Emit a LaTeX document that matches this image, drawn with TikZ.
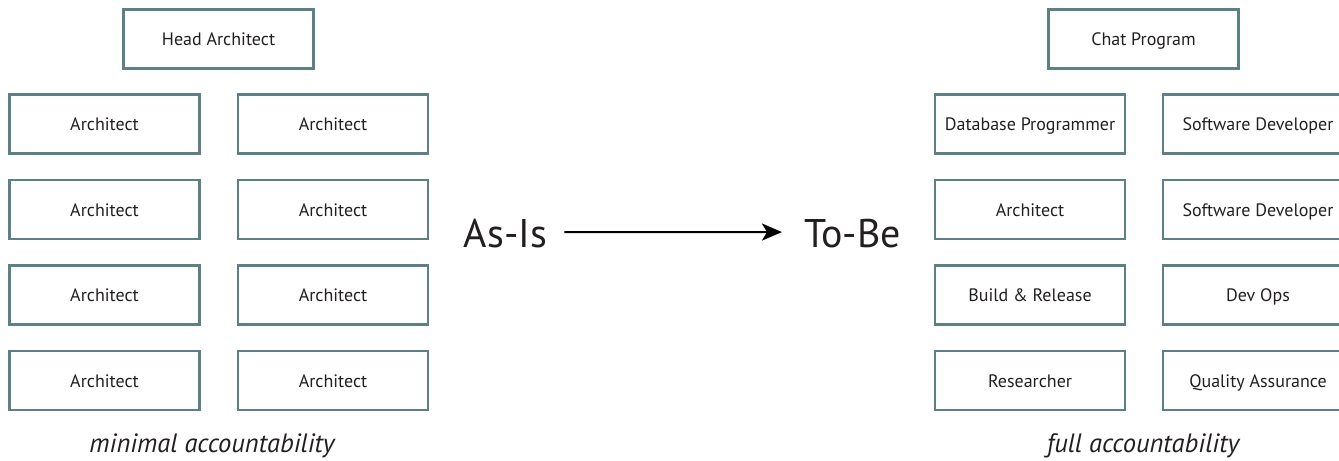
\documentclass[tikz,border=0pt]{standalone}
\usepackage{fontspec}
\setmainfont{PT Sans}
\usetikzlibrary{arrows.meta}
\definecolor{boxline}{RGB}{92,128,131}
\definecolor{ink}{RGB}{35,31,32}
\tikzset{
  rolebox/.style={draw=boxline, line width=2.2bp, minimum width=190bp, minimum height=59bp, inner sep=0pt,
    text height=14bp, text depth=0bp,
    text=ink, font=\fontsize{18bp}{21bp}\selectfont},
  bigword/.style={inner sep=0pt, anchor=base, text=ink, font=\fontsize{40bp}{46bp}\selectfont},
  caption/.style={inner sep=0pt, text=ink, font=\fontsize{26.5bp}{30bp}\selectfont\itshape},
  flow/.style={draw=black, line width=2bp, -{Stealth[length=20bp, width=17bp, inset=5bp]}}
}
\begin{document}
\begin{tikzpicture}[x=1bp, y=-1bp]
\useasboundingbox (0,0) rectangle (1339,461);
\clip (0,0) rectangle (1339,461);
% left organisation
\node[rolebox] (ha) at (218.5,39) {Head Architect};
\node[rolebox] (l11) at (104.5,124) {Architect};
\node[rolebox] (l12) at (333,124) {Architect};
\node[rolebox] (l21) at (104.5,209.5) {Architect};
\node[rolebox] (l22) at (333,209.5) {Architect};
\node[rolebox] (l31) at (104.5,295) {Architect};
\node[rolebox] (l32) at (333,295) {Architect};
\node[rolebox] (l41) at (104.5,380.5) {Architect};
\node[rolebox] (l42) at (333,380.5) {Architect};
\node[caption] (lcap) at (212,446) {minimal accountability};
% right organisation
\node[rolebox] (cp) at (1143.5,39) {Chat Program};
\node[rolebox] (r11) at (1030,124) {Database Programmer};
\node[rolebox] (r12) at (1258,124) {Software Developer};
\node[rolebox] (r21) at (1030,209.5) {Architect};
\node[rolebox] (r22) at (1258,209.5) {Software Developer};
\node[rolebox] (r31) at (1030,295) {Build \& Release};
\node[rolebox] (r32) at (1258,295) {Dev Ops};
\node[rolebox] (r41) at (1030,380.5) {Researcher};
\node[rolebox] (r42) at (1258,380.5) {Quality Assurance};
\node[caption] (rcap) at (1143,446) {full accountability};
% transition
\node[bigword] (asis) at (505.5,248) {As-Is};
\node[bigword] (tobe) at (852.5,248) {To-Be};
\draw[flow, shorten <=17bp, shorten >=22bp] ([yshift=2bp]asis.east) -- ([yshift=2bp]tobe.west);
\end{tikzpicture}
\end{document}
